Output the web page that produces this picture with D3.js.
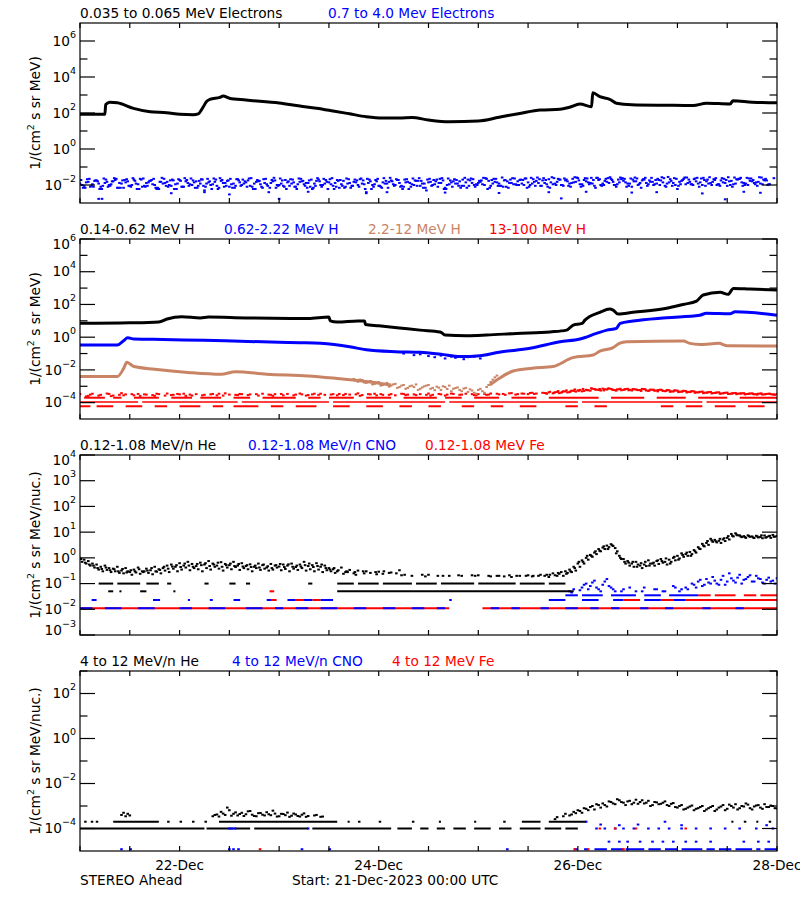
<!DOCTYPE html>
<html><head><meta charset="utf-8">
<script src="https://cdn.jsdelivr.net/npm/d3@7"></script>
<style>body{margin:0;background:#fff}svg{display:block}text{font-family:"DejaVu Sans",sans-serif}</style>
</head><body><svg id="c" width="800" height="900"></svg>
<script>
// ---------- time axis (hours after 21-Dec-2023 00:00 UTC) ----------
const startMs = Date.UTC(2023, 11, 21);
const spanHours = 168;
const dayLabels = ["2023-12-22", "2023-12-24", "2023-12-26", "2023-12-28"];

// ---------- Panel 1: electrons ----------
const elecLoHours = [0,6.0,6.2,7.2,9,12.9,16.9,20.9,24.1,27.3,28.5,29.6,30.5,31.3,33.7,34.5,36,40,48,53,57,61,65,69,73,77,80,84,89,96,101,106,111,115.7,118,120.5,123.3,123.6,125.3,127.7,129.3,133,141.4,147.8,151,156.7,157.4,162,168];
const elecLoFlux  = [85,85,300,400,370,180,117,104,85,80,90,200,430,570,740,870,660,525,360,245,185,130,90,62,52,52,56,41,33,36,58,95,148,160,210,316,225,1350,800,575,350,290,270,260,350,316,480,400,370];
const elecHiA = [0.012,0.009,0.015,0.011,0.018,0.008,0.013,0.010,0.016,0.007,0.012,0.014,0.009,0.020,0.011,0.008,0.013,0.017,0.010,0.006,0.012,0.015,0.009,0.011,0.019,0.008,0.013,0.010,0.016,0.012,0.005,0.014,0.011,0.009,0.017,0.013,0.008,0.012,0.021,0.010,0.014,0.009,0.012,0.016,0.007,0.011,0.013,0.018,0.010,0.009,0.014,0.012,0.008,0.015,0.011,0.013,0.006,0.017,0.010,0.012,0.014,0.009,0.019,0.011,0.008,0.013,0.015,0.010,0.012,0.004,0.016,0.011,0.009,0.014,0.012,0.018,0.010,0.013,0.008,0.015,0.011,0.017,0.009,0.012,0.014,0.010,0.020,0.013,0.007,0.011,0.016,0.012,0.009,0.014,0.018,0.010,0.013,0.011,0.022,0.009,0.015,0.012,0.008,0.016,0.013,0.011,0.019,0.010,0.014,0.012,0.017,0.009,0.013,0.021,0.011,0.015,0.010,0.018,0.012,0.014,0.024,0.011,0.016,0.013,0.009,0.019,0.012,0.015,0.022,0.010,0.014,0.017,0.012,0.008,0.016,0.013,0.020,0.011,0.015,0.012,0.018,0.009,0.014,0.013,0.006,0.017,0.011,0.015,0.021,0.012,0.010,0.016,0.013,0.019,0.011,0.014,0.009,0.017,0.012,0.022,0.013,0.010,0.016,0.014,0.012,0.018,0.011];
const elecHiB = [0.010,0.014,0.008,0.017,0.012,0.009,0.015,0.011,0.019,0.013,0.007,0.016,0.010,0.012,0.022,0.009,0.014,0.011,0.006,0.015,0.013,0.010,0.018,0.012,0.008,0.016,0.011,0.014,0.009,0.020,0.012,0.010,0.015,0.007,0.013,0.017,0.011,0.009,0.014,0.012,0.018,0.008,0.015,0.011,0.013,0.004,0.016,0.010,0.012,0.019,0.009,0.014,0.011,0.016,0.013,0.008,0.012,0.020,0.010,0.015,0.011,0.013,0.007,0.017,0.012,0.009,0.014,0.021,0.011,0.013,0.010,0.016,0.008,0.012,0.015,0.011,0.019,0.009,0.014,0.013,0.010,0.017,0.012,0.005,0.015,0.011,0.013,0.018,0.010,0.014,0.012,0.016,0.009,0.020,0.013,0.011,0.015,0.010,0.017,0.012,0.014,0.009,0.019,0.013,0.011,0.016,0.012,0.023,0.010,0.015,0.013,0.018,0.011,0.014,0.012,0.020,0.009,0.016,0.013,0.015,0.011,0.019,0.014,0.012,0.025,0.010,0.017,0.013,0.015,0.011,0.021,0.014,0.012,0.016,0.010,0.018,0.013,0.015,0.011,0.019,0.014,0.012,0.017,0.010,0.015,0.022,0.013,0.011,0.016,0.014,0.019,0.012,0.015,0.010,0.018,0.013,0.016,0.011,0.020,0.014,0.012,0.017,0.013,0.015,0.011,0.018];
const elecHiC = [0.019,0.007,0.022,0.008,0.016,0.006,0.020,0.009,0.024,0.007,0.018,0.021,0.008,0.017,0.006,0.023,0.009,0.019,0.007,0.015,0.022,0.008,0.020,0.006,0.017,0.024,0.009,0.018,0.007,0.021,0.008,0.016,0.023,0.006,0.019,0.009,0.022,0.007,0.018,0.020,0.008,0.024,0.006,0.017,0.021,0.009,0.019,0.007,0.023,0.008,0.016,0.020,0.006,0.022,0.009,0.018,0.007,0.024,0.008,0.019,0.021,0.006,0.017,0.009,0.023,0.007,0.020,0.008,0.018,0.022,0.006,0.019,0.009,0.024,0.007,0.016,0.021,0.008,0.020,0.006,0.023,0.009,0.017,0.007,0.022,0.019,0.008,0.024,0.006,0.018,0.021,0.009,0.020,0.007,0.023,0.008,0.017,0.025,0.006,0.019,0.022,0.009,0.018,0.007,0.024,0.010,0.020,0.023,0.008,0.021,0.026,0.009,0.019,0.007,0.024,0.022,0.010,0.020,0.008,0.027,0.018,0.009,0.023,0.025,0.007,0.021,0.010,0.024,0.019,0.008,0.026,0.022,0.009,0.020,0.023,0.007,0.025,0.018,0.010,0.022,0.027,0.008,0.021,0.024,0.009,0.019,0.026,0.011,0.023,0.008,0.025,0.020,0.010,0.024,0.009,0.022,0.027,0.008,0.021,0.025,0.010,0.023,0.019,0.009,0.026,0.022,0.011,0.024];
const elecHiD = [0.007,0.021,0.009,0.018,0.006,0.023,0.008,0.016,0.022,0.007,0.019,0.009,0.024,0.006,0.020,0.008,0.017,0.022,0.007,0.025,0.009,0.018,0.006,0.021,0.008,0.019,0.023,0.007,0.017,0.009,0.022,0.006,0.020,0.024,0.008,0.018,0.007,0.021,0.009,0.016,0.023,0.006,0.019,0.008,0.022,0.007,0.025,0.009,0.018,0.006,0.021,0.008,0.023,0.017,0.007,0.020,0.009,0.016,0.022,0.006,0.024,0.008,0.019,0.007,0.021,0.009,0.018,0.023,0.006,0.020,0.008,0.022,0.007,0.017,0.025,0.009,0.019,0.006,0.021,0.008,0.018,0.024,0.007,0.020,0.009,0.016,0.022,0.006,0.023,0.008,0.019,0.007,0.025,0.009,0.021,0.010,0.018,0.024,0.007,0.022,0.009,0.026,0.008,0.020,0.023,0.010,0.019,0.007,0.025,0.009,0.021,0.024,0.008,0.027,0.010,0.020,0.023,0.009,0.022,0.026,0.008,0.024,0.011,0.019,0.025,0.009,0.022,0.027,0.010,0.020,0.024,0.008,0.023,0.026,0.011,0.021,0.009,0.025,0.019,0.010,0.024,0.028,0.009,0.022,0.011,0.026,0.020,0.010,0.025,0.023,0.009,0.027,0.021,0.011,0.024,0.019,0.010,0.026,0.022,0.009,0.025,0.023,0.011,0.027,0.020,0.010];
const elecHiOutHours = [4.5,5.3,22,30,36,48,55,69,74,88,101,113,116,122,133,139,150,155.5,160,164];
const elecHiOutFlux  = [0.0017,0.0017,0.0035,0.004,0.003,0.0017,0.0042,0.0035,0.004,0.0038,0.0036,0.004,0.0018,0.0042,0.0038,0.004,0.0034,0.0016,0.0042,0.0037];

// ---------- Panel 2: protons ----------
const hLoHours = [0,12,19,21,24.5,29,31,40,55,60,60.3,62,67,68.6,68.8,72,77,82,86.8,88,93.2,98,105.2,113.3,117.3,118.9,121,121.7,125.3,127.7,128.5,129.7,133.3,141.4,145.4,148.6,150.2,154.3,156.2,157.5,161.5,168];
const hLoFlux  = [7,7.5,8.5,13,18,15,17,15,14,17,10,8.5,9.8,9.8,6,5,3.7,2.7,2.1,1.35,1.23,1.35,1.7,2.1,2.7,5.5,6.9,11,33,52,45,26,33,58,100,160,380,550,420,950,870,760];
const hMidHours = [0,9,10.5,11.5,13,20,25,35,48,53,58,65,69,76,82,87,91.6,96.4,101,108.5,115.7,120.5,124.5,127,129.3,130.2,133.3,141.4,149.4,151,156.7,157.9,168];
const hMidFlux  = [0.33,0.33,0.6,0.93,0.78,0.72,0.68,0.6,0.49,0.46,0.42,0.26,0.17,0.13,0.12,0.09,0.065,0.074,0.12,0.21,0.52,0.78,1.7,2.7,3.5,7,9.8,15.5,22,29,27,36,22];
const hMidScatHours = [78,80.5,82,84,85.5,87,88,89.5,90.5,91,92.5,93.5,95,96.5,98];
const hMidScatFlux  = [0.1,0.08,0.09,0.07,0.06,0.075,0.05,0.065,0.055,0.07,0.045,0.06,0.065,0.05,0.08];
const hHiHours = [0,9,10.5,11.3,13,18,26,34,37.5,45,55,62,68,75,76,98,98.8,101,104.4,109,114,118.8,123.7,125.3,128.5,130,131.8,145.4,147,149.4,154,156,168];
const hHiFlux  = [0.0039,0.0039,0.012,0.029,0.016,0.011,0.007,0.0054,0.0078,0.0054,0.0043,0.003,0.0021,0.0012,null,null,0.0012,0.003,0.0085,0.0126,0.016,0.056,0.081,0.14,0.23,0.42,0.52,0.58,0.42,0.36,0.42,0.30,0.29];
const hHiScatA = [0.0028,0.0019,0.0024,0.0016,0.0021,0.0014,0.0018,0.0012,0.0016,0.0011,0.0014,0.0009,0.0012,0.0008,0.0011,0.0013,0.0007,0.001,0.0012,0.0008,0.00095,0.0006,0.0009,0.0011,0.0007,0.00085,0.0005,0.0008,0.00065,0.0004,0.0006,0.0005,0.0009,0.0018,0.0035];
const hHiScatB = [0.0022,0.0026,0.0017,0.0019,0.0013,0.0017,0.0011,0.0014,0.00095,0.0013,0.0008,0.0011,0.0007,0.001,0.0009,0.0006,0.00085,0.0011,0.0007,0.00058,0.00082,0.001,0.00068,0.0005,0.00078,0.0006,0.00072,0.00045,0.00055,0.00035,0.0007,0.0004,0.0012,0.0025,0.0045];
const hVhiA = [3.3e-4,null,2.6e-4,3.5e-4,null,3.0e-4,null,3.4e-4,2.7e-4,null,3.8e-4,3.2e-4,null,2.8e-4,3.4e-4,null,3.1e-4,null,2.6e-4,3.3e-4,null,3.6e-4,2.9e-4,null,3.2e-4,3.5e-4,null,2.7e-4,3.3e-4,null,3.0e-4,null,3.4e-4,2.8e-4,null,3.7e-4,3.1e-4,null,2.9e-4,3.3e-4,null,3.2e-4,null,2.7e-4,3.5e-4,null,3.0e-4,3.3e-4,null,2.8e-4,3.4e-4,null,3.1e-4,3.6e-4,null,2.9e-4,3.2e-4,null,3.5e-4,3.0e-4,null,3.3e-4,2.8e-4,null,3.4e-4,3.1e-4,null,3.7e-4,2.9e-4,null,3.2e-4,3.5e-4,null,3.0e-4,null,3.3e-4,2.8e-4,null,3.4e-4,3.1e-4,null,2.9e-4,3.3e-4,null,3.6e-4,3.0e-4,null,3.2e-4,2.7e-4,null,3.4e-4,null,3.1e-4,3.5e-4,null,2.9e-4,3.3e-4,null,3.0e-4,3.6e-4,null,3.2e-4,3.4e-4,null,3.8e-4,3.1e-4,null,3.5e-4,3.3e-4,4.0e-4,3.6e-4,null,3.9e-4,4.2e-4,3.7e-4,4.5e-4,4.1e-4,4.8e-4,4.4e-4,5.2e-4,5.6e-4,4.9e-4,6.1e-4,5.4e-4,6.8e-4,5.9e-4,7.2e-4,6.3e-4,6.9e-4,5.8e-4,6.6e-4,6.0e-4,7.0e-4,5.5e-4,6.4e-4,5.9e-4,6.7e-4,5.2e-4,6.1e-4,5.6e-4,6.2e-4,5.0e-4,5.7e-4,4.8e-4,5.4e-4,4.6e-4,5.1e-4,4.4e-4,4.9e-4,4.2e-4,4.7e-4,4.0e-4,4.5e-4,3.9e-4,4.3e-4,3.7e-4,4.1e-4,3.5e-4,3.9e-4,3.6e-4,3.8e-4,3.4e-4,3.7e-4,3.3e-4,3.6e-4,3.2e-4,3.5e-4,3.1e-4,3.4e-4];
const hVhiB = [null,2.4e-4,3.1e-4,null,2.7e-4,null,3.6e-4,2.5e-4,null,3.0e-4,2.8e-4,null,3.3e-4,null,2.6e-4,3.2e-4,null,2.9e-4,3.5e-4,null,2.7e-4,null,3.0e-4,3.4e-4,null,2.6e-4,3.1e-4,null,null,2.8e-4,null,3.2e-4,null,3.5e-4,2.7e-4,null,null,3.0e-4,3.4e-4,null,2.9e-4,null,3.3e-4,null,null,3.1e-4,2.6e-4,null,3.4e-4,null,null,2.8e-4,null,3.2e-4,2.7e-4,null,3.5e-4,3.0e-4,null,null,3.1e-4,null,3.4e-4,2.9e-4,null,null,3.2e-4,2.6e-4,null,3.3e-4,null,2.8e-4,3.3e-4,null,3.0e-4,null,null,3.5e-4,2.9e-4,null,3.2e-4,null,null,3.0e-4,2.7e-4,null,3.4e-4,null,3.1e-4,3.6e-4,null,3.0e-4,null,null,3.3e-4,2.8e-4,null,3.4e-4,3.1e-4,null,3.5e-4,null,3.0e-4,3.7e-4,null,3.3e-4,3.6e-4,null,3.9e-4,3.4e-4,null,4.0e-4,3.5e-4,null,4.3e-4,3.8e-4,5.0e-4,4.2e-4,5.4e-4,4.7e-4,6.0e-4,5.2e-4,5.7e-4,7.0e-4,6.2e-4,5.5e-4,6.6e-4,7.4e-4,6.0e-4,6.5e-4,5.7e-4,6.8e-4,6.1e-4,6.6e-4,5.8e-4,6.9e-4,5.5e-4,6.3e-4,5.3e-4,6.0e-4,5.2e-4,5.9e-4,4.9e-4,5.6e-4,4.7e-4,5.3e-4,4.5e-4,5.0e-4,4.3e-4,4.6e-4,4.1e-4,4.4e-4,3.8e-4,4.2e-4,3.6e-4,4.0e-4,3.4e-4,3.8e-4,3.5e-4,3.7e-4,3.3e-4,3.6e-4,3.2e-4,3.5e-4,3.1e-4,3.4e-4,3.3e-4,3.0e-4];
const hVhiC = [3.8e-4,4.6e-4,4.0e-4,5.1e-4,4.4e-4,5.6e-4,4.9e-4,6.4e-4,5.3e-4,6.9e-4,5.8e-4,7.6e-4,6.2e-4,6.8e-4,5.6e-4,7.1e-4,6.4e-4,5.4e-4,7.0e-4,6.3e-4,5.7e-4,6.7e-4,6.0e-4,5.2e-4,6.5e-4,5.6e-4,6.1e-4,4.9e-4,5.8e-4,5.2e-4,4.6e-4,5.5e-4,4.4e-4,5.0e-4,4.2e-4,4.8e-4,4.0e-4,4.4e-4,3.8e-4,4.2e-4,3.7e-4,4.0e-4,3.5e-4,3.9e-4,3.4e-4,3.7e-4,3.3e-4,3.6e-4,3.2e-4,3.5e-4,3.4e-4,3.1e-4,3.6e-4,3.3e-4,3.5e-4,3.2e-4,3.4e-4];
const hVhiRowFlux = [2e-4, 1.1e-4, 6e-5];
const hVhiRow1 = [[1,6],[8,10],[13,19],[22,27],[29,34],[37,41],[44,52],[55,58],[60,66],[69,75],[78,86],[88,92],[95,101],[104,110],[113,125],[128,136],[139,146],[149,156],[159,168]];
const hVhiRow2 = [[0,14],[15,38],[39,60],[61,88],[89,120],[121,150],[151,168]];
const hVhiRow3 = [[0,2.5],[4,8],[11,15],[18,21],[24,29],[32,34.5],[37,43],[46,49],[52,57],[61,65],[69,73],[77,80],[84,87],[92,95],[99,102],[106,110],[117,120],[124,127],[140,143],[146,150],[153,158],[161,165]];

// ---------- Panel 3: 0.12-1.08 MeV/n heavy ions ----------
const heA = [0.95,0.85,0.75,0.6,0.55,0.45,0.5,0.4,0.38,0.45,0.32,0.4,0.28,0.35,0.42,0.3,0.38,0.33,0.45,0.36,0.4,0.5,0.55,0.45,0.62,0.5,0.7,0.58,0.48,0.65,0.55,0.75,0.6,0.5,0.68,0.58,0.52,0.7,0.5,0.62,0.48,0.56,0.45,0.6,0.52,0.42,0.58,0.5,0.46,0.55,0.5,0.6,0.44,0.55,0.7,0.48,0.52,0.62,0.45,0.5,0.4,0.36,0.3,0.42,0.28,0.34,0.25,0.32,null,0.3,0.26,null,0.29,0.24,null,0.27,null,0.33,null,null,0.2,null,null,null,0.22,null,null,null,null,0.2,null,null,0.2,null,null,null,0.21,null,null,0.19,null,0.2,null,null,0.18,null,0.2,null,0.21,0.19,null,0.22,0.2,0.18,0.25,0.2,0.28,0.3,0.35,0.45,0.6,0.8,1.0,1.3,1.6,2.2,2.5,3.0,3.4,2.4,1.2,0.9,0.75,0.6,0.7,0.5,0.55,0.8,0.6,0.75,0.9,0.7,0.85,1.0,1.2,1.5,1.4,1.7,2.0,2.6,3.5,3.8,5.5,5.0,4.6,5.2,6.0,8.5,9.0,7.5,7.0,7.5,6.8,7.2,6.5,7.4,6.9,7.8,7.1];
const heB = [0.7,0.6,0.5,0.42,0.35,0.3,0.34,0.28,0.3,0.26,0.25,0.3,0.22,0.27,0.24,0.3,0.26,0.23,0.29,0.25,0.32,0.28,0.38,0.3,0.35,0.42,0.33,0.4,0.36,0.3,0.4,0.35,0.45,0.38,0.32,0.42,0.36,0.44,0.34,0.4,0.36,0.3,0.4,0.34,0.38,0.32,0.35,0.42,0.33,0.37,0.3,0.38,0.34,0.4,0.32,0.36,0.3,0.35,0.28,0.33,0.3,0.26,null,0.24,0.28,null,0.22,null,0.25,null,null,0.23,null,null,0.26,null,null,0.21,null,null,null,null,0.22,null,null,null,null,0.2,null,null,null,null,null,null,0.21,null,null,null,0.2,null,0.2,null,null,0.21,null,null,null,0.2,null,null,0.2,null,0.22,null,0.21,0.24,0.2,0.26,0.28,0.32,0.45,0.6,0.85,1.1,1.4,1.8,2.2,2.6,2.9,1.8,0.9,0.6,0.5,0.45,0.55,0.4,0.48,0.6,0.5,0.58,0.65,0.55,0.7,0.8,0.95,1.1,1.2,1.4,1.6,2.2,2.8,3.2,4.2,4.0,3.8,4.5,5.2,6.8,7.5,6.4,6.0,6.6,5.9,6.2,5.8,6.4,6.0,6.7,6.2];
const heC = [0.9,0.65,0.55,0.5,0.4,0.37,0.42,0.33,0.36,0.3,0.37,0.27,0.33,0.3,0.36,0.28,0.32,0.4,0.3,0.34,0.45,0.38,0.46,0.52,0.44,0.6,0.5,0.45,0.58,0.52,0.62,0.48,0.55,0.65,0.45,0.52,0.6,0.48,0.58,0.46,0.52,0.44,0.5,0.42,0.55,0.47,0.4,0.52,0.58,0.44,0.56,0.45,0.5,0.46,0.52,0.6,0.44,0.48,0.55,0.4,0.35,0.4,0.33,null,0.3,null,0.28,null,0.3,null,null,0.28,null,0.3,null,null,0.25,null,0.22,null,null,null,null,0.19,null,null,0.2,null,null,null,null,0.21,null,null,null,0.2,null,null,null,null,null,null,0.19,null,null,0.2,null,null,null,0.2,null,null,null,0.22,null,0.26,null,0.24,0.3,0.4,0.7,0.7,1.2,1.2,1.8,1.9,2.8,2.2,3.1,1.5,1.0,0.7,0.65,0.7,0.45,0.62,0.7,0.5,0.65,0.8,0.75,0.95,0.6,1.1,0.85,1.3,1.6,1.2,1.8,2.3,3.0,4.5,4.8,4.4,5.5,5.8,7.0,7.2,8.0,6.8,6.4,7.0,6.2,6.8,7.5,6.1,7.2,6.6,7.0];
const heRowFlux = [0.1, 0.05];
const heRow1 = [[4.5,8],[9,14.5],[16,19],[21,22],[30,31],[36,37.5],[40,41],[55,56],[62,66],[67,72],[73,80],[81,86],[87,95],[96,105],[106,112],[113,117]];
const heRow2 = [[6.8,8],[9.5,10],[14.5,16],[22.5,23],[62,119]];
const ionRowFlux = [0.011, 0.023, 0.035];
const feRow1 = [[0,89],[97,168]];
const cnoRow1 = [[0,3],[6,10],[14,18],[24,27],[31,35],[40,44],[47,49],[52,55],[58,62],[66,69],[73,76],[80,83],[86,88],[99,101],[104,106],[111,113],[117,120],[123,125],[128,130],[135,137],[141,143],[150,152],[158,160]];
const feRow2 = [[45.5,47.4],[52,54],[56,58],[131,135],[140,143],[146,168]];
const cnoRow2 = [[2.8,4],[17.6,19.3],[26,26.5],[31.3,32],[37,38.6],[45,46],[50,52],[54,56],[58,61],[89,89.6],[113,117],[121,125],[128.5,131],[136,140],[143,146]];
const feRow3 = [[149,152],[153,158],[160,163],[164,168]];
const cnoRow3 = [[117,120],[121,126],[128,134],[136,140],[142,149]];
const feSpotHours = [46, 46.5];
const feSpotFlux  = [0.05, 0.05];
const cnoCloudA = [0.05,0.06,null,0.07,0.1,0.08,0.13,0.06,0.09,0.15,0.07,0.05,null,0.06,null,null,0.05,null,0.07,null,null,0.06,null,0.05,null,0.08,null,0.06,0.07,null,0.09,0.12,0.08,0.15,0.1,0.13,0.09,0.2,0.12,0.16,0.11,0.22,0.14,0.18,0.12,0.2,0.15,0.1,0.17,0.13,0.16];
const cnoCloudB = [0.045,null,0.055,0.09,0.06,0.11,0.07,0.05,0.12,0.08,0.06,null,0.05,null,0.07,null,null,0.05,null,null,0.06,null,0.05,null,null,0.07,0.05,null,0.06,0.1,0.07,0.14,0.09,0.11,0.18,0.1,0.14,0.09,0.25,0.13,0.17,0.1,0.15,0.21,0.12,0.16,0.11,0.14,0.12,0.1];

// ---------- Panel 4: 4-12 MeV/n heavy ions ----------
const he4RowFlux = [1e-4, 2e-4];
const he4Row1 = [[0,30],[30.5,41],[42,55],[56,75],[76.5,80],[82,84],[86,88],[90,93],[95,99],[101,104],[106,111],[112,116],[117,120]];
const he4Row2 = [[1,1.6],[2.6,3.2],[3.8,4.4],[8,19],[21,21.6],[24,24.6],[27,27.6],[30,30.6],[33.5,62],[64.5,65],[67,67.6],[72,72.6],[80,80.6],[86.5,87],[95,95.5],[102,102.6],[106.5,111],[113,122],[157,157.5],[160,160.6],[163,163.5],[166,166.6]];
const he4EarlyHours = [10,10.5,11,11.5,12];
const he4EarlyFlux  = [4e-4,5e-4,3.5e-4,4.5e-4,3.8e-4];
const he4MidA = [3.5e-4,4.2e-4,5.5e-4,4.0e-4,6.5e-4,4.5e-4,3.8e-4,5.0e-4,4.3e-4,6.0e-4,3.6e-4,4.8e-4,4.1e-4,5.3e-4,3.9e-4,4.6e-4,3.5e-4,4.4e-4,5.1e-4,3.7e-4,4.2e-4,3.4e-4,4.7e-4,3.6e-4,null,4.0e-4,3.3e-4];
const he4MidB = [4.0e-4,3.4e-4,4.6e-4,8.5e-4,3.7e-4,5.2e-4,4.4e-4,3.6e-4,5.8e-4,4.1e-4,3.5e-4,4.9e-4,3.8e-4,4.3e-4,6.2e-4,3.4e-4,4.5e-4,3.9e-4,3.3e-4,4.6e-4,3.6e-4,4.1e-4,3.3e-4,null,3.8e-4,null,3.4e-4];
const he4RightA = [null,3.2e-4,null,4.5e-4,3.8e-4,5.5e-4,6.5e-4,5.0e-4,7.5e-4,9.0e-4,7.0e-4,1.1e-3,1.3e-3,9.5e-4,1.5e-3,1.2e-3,1.8e-3,1.4e-3,1.6e-3,1.2e-3,1.9e-3,1.5e-3,1.3e-3,1.7e-3,1.1e-3,1.45e-3,1.25e-3,1.6e-3,1.0e-3,1.35e-3,8.5e-4,1.1e-3,7.5e-4,9.5e-4,6.5e-4,8.0e-4,1.0e-3,7.0e-4,9.0e-4,6.0e-4,8.5e-4,1.1e-3,7.5e-4,1.0e-3,1.2e-3,8.0e-4,9.5e-4,1.15e-3,7.0e-4,1.05e-3,8.5e-4,1.2e-3,9.0e-4,1.0e-3,7.8e-4];
const he4RightB = [2.6e-4,null,3.5e-4,null,4.2e-4,4.8e-4,6.0e-4,8.0e-4,6.5e-4,1.0e-3,1.2e-3,8.5e-4,1.1e-3,1.6e-3,1.3e-3,2.0e-3,1.5e-3,1.1e-3,1.7e-3,1.4e-3,1.25e-3,1.8e-3,1.4e-3,1.0e-3,1.5e-3,1.2e-3,1.4e-3,1.1e-3,1.25e-3,9.0e-4,1.0e-3,7.0e-4,8.5e-4,1.05e-3,7.5e-4,9.0e-4,6.0e-4,8.0e-4,1.0e-3,7.0e-4,9.5e-4,6.5e-4,1.15e-3,8.5e-4,7.0e-4,1.0e-3,1.3e-3,8.0e-4,9.5e-4,1.1e-3,7.5e-4,9.0e-4,1.05e-3,8.0e-4];
const cno4Row = [[119,120],[121.5,122.5],[124,127],[128,131],[131.5,136],[137,140],[141,144],[145,150],[151,153],[154,157],[158,162],[163,164],[165,168]];
const cno4RowFlux = 1.2e-5;
const cno4Hours = [10,12.2,36,37,38.2,53.5,60.2,103,127.5,130,132,135,138,140.5,143,146,148.5,152,160,163.5,166,36,36.6,37.4,55,124.5,126.5,129,131,133.5,137,139.5,142,145,148.5,152,155.5,159,163,167,122,125.5,130,134.5,141,145,165.5];
const cno4Flux  = [1.2e-5,1.2e-5,1.2e-5,1.2e-5,1.2e-5,1.2e-5,1.2e-5,1.2e-5,2.6e-5,2.6e-5,2.6e-5,2.6e-5,2.6e-5,2.6e-5,2.6e-5,2.6e-5,2.6e-5,2.6e-5,2.6e-5,2.6e-5,2.6e-5,1e-4,1e-4,1e-4,1e-4,1e-4,1e-4,1e-4,1e-4,1e-4,1e-4,1e-4,1e-4,1e-4,1e-4,1e-4,1e-4,1e-4,1e-4,1e-4,2e-4,1.5e-4,1.4e-4,1.5e-4,2e-4,1.4e-4,1.4e-4];
const fe4Hours = [43.4,119.3,122.5,125.3,129,131,134,146];
const fe4Flux  = [1.2e-5,1.2e-5,1.2e-5,1e-4,1e-4,1.2e-5,1e-4,1e-4];

// ---------- text ----------
const titleTexts = [
  ["0.035 to 0.065 MeV Electrons", "0.7 to 4.0 Mev Electrons"],
  ["0.14-0.62 MeV H", "0.62-2.22 MeV H", "2.2-12 MeV H", "13-100 MeV H"],
  ["0.12-1.08 MeV/n He", "0.12-1.08 MeV/n CNO", "0.12-1.08 MeV Fe"],
  ["4 to 12 MeV/n He", "4 to 12 MeV/n CNO", "4 to 12 MeV Fe"]
];
const yUnits = ["MeV)", "MeV)", "MeV/nuc.)", "MeV/nuc.)"];
const yDomains = [[1e-3,1e7],[1e-5,1e6],[1e-3,1e4],[1e-5,1e3]];
const yMajorExp = [[6,4,2,0,-2],[6,4,2,0,-2,-4],[4,3,2,1,0,-1,-2,-3],[2,0,-2,-4]];
const yMinorExp = [[5,3,1,-1],[5,3,1,-1,-3],[],[3,1,-1,-3]];

// ---------- layout / style ----------
const C = {black:"#000", blue:"#0000ff", brown:"#c98466", red:"#ff0000"};
const titleColors = [[C.black,C.blue],[C.black,C.blue,C.brown,C.red],[C.black,C.blue,C.red],[C.black,C.blue,C.red]];
const titleX = [[80,328],[80,224,368,489],[80,248,425],[80,232,392]];
const L = 80, R = 777, PH = 180, tops = [23,239,455,671];
const FS = 13.7;

const svg = d3.select("#c");
const hr = h => new Date(startMs + h*3600000);
const x = d3.scaleUtc().domain([hr(0), hr(spanHours)]).range([L, R]);
const X = h => x(hr(h));

function series(arr, start, step){ return arr.map((v,i)=>({h:start+i*step, v})).filter(d=>d.v!=null); }
function pairs(hs, vs){ return hs.map((h,i)=>({h, v:vs[i]})); }

tops.forEach((top, p) => {
  const y = d3.scaleLog().domain(yDomains[p]).range([top+PH, top]);
  const g = svg.append("g");
  const clipId = "clip"+p;
  svg.append("clipPath").attr("id", clipId).append("rect").attr("x", L).attr("y", top).attr("width", R-L).attr("height", PH);
  const d = g.append("g").attr("clip-path", `url(#${clipId})`);

  const dots = (data, color, w=2.6, hgt=2) => d.append("g").attr("fill", color).selectAll("rect").data(data).join("rect")
      .attr("x", e=>X(e.h)-w/2).attr("y", e=>y(e.v)-hgt/2).attr("width", w).attr("height", hgt);
  const line = (hs, vs, color, sw) => d.append("path").datum(pairs(hs, vs))
      .attr("fill","none").attr("stroke", color).attr("stroke-width", sw).attr("stroke-linejoin","round")
      .attr("d", d3.line().defined(e=>e.v!=null).curve(d3.curveMonotoneX).x(e=>X(e.h)).y(e=>y(e.v)));
  const rows = (segs, flux, color, sw=2) => d.append("g").attr("stroke", color).attr("stroke-width", sw).selectAll("line").data(segs).join("line")
      .attr("x1", s=>X(s[0])).attr("x2", s=>X(s[1])).attr("y1", y(flux)).attr("y2", y(flux));

  if (p === 0) {
    dots(series(elecHiA, 0, 1), C.blue);
    dots(series(elecHiB, 0.5, 1), C.blue);
    dots(series(elecHiC, 0.25, 1), C.blue);
    dots(series(elecHiD, 0.75, 1), C.blue);
    dots(pairs(elecHiOutHours, elecHiOutFlux), C.blue);
    line(elecLoHours, elecLoFlux, C.black, 3);
  } else if (p === 1) {
    rows(hVhiRow1, hVhiRowFlux[0], C.red);
    rows(hVhiRow2, hVhiRowFlux[1], C.red, 1.5);
    rows(hVhiRow3, hVhiRowFlux[2], C.red);
    dots(series(hVhiA, 0, 1), C.red);
    dots(series(hVhiB, 0.5, 1), C.red);
    dots(series(hVhiC, 112.25, 1), C.red);
    dots(series(hHiScatA, 66, 1), C.brown);
    dots(series(hHiScatB, 66.5, 1), C.brown);
    line(hHiHours, hHiFlux, C.brown, 3);
    dots(pairs(hMidScatHours, hMidScatFlux), C.blue);
    line(hMidHours, hMidFlux, C.blue, 3);
    line(hLoHours, hLoFlux, C.black, 3);
  } else if (p === 2) {
    rows(feRow1, ionRowFlux[0], C.red);
    rows(cnoRow1, ionRowFlux[0], C.blue);
    rows(feRow2, ionRowFlux[1], C.red);
    rows(cnoRow2, ionRowFlux[1], C.blue);
    rows(feRow3, ionRowFlux[2], C.red);
    rows(cnoRow3, ionRowFlux[2], C.blue);
    dots(pairs(feSpotHours, feSpotFlux), C.red);
    dots(series(cnoCloudA, 118, 1), C.blue);
    dots(series(cnoCloudB, 118.5, 1), C.blue);
    rows(heRow1, heRowFlux[0], C.black);
    rows(heRow2, heRowFlux[1], C.black);
    dots(series(heA, 0, 1), C.black);
    dots(series(heB, 0.5, 1), C.black);
    dots(series(heC, 0.25, 1), C.black);
  } else {
    rows(he4Row1, he4RowFlux[0], C.black);
    rows(he4Row2, he4RowFlux[1], C.black);
    dots(pairs(he4EarlyHours, he4EarlyFlux), C.black);
    dots(series(he4MidA, 32, 1), C.black);
    dots(series(he4MidB, 32.5, 1), C.black);
    dots(series(he4RightA, 114, 1), C.black);
    dots(series(he4RightB, 114.5, 1), C.black);
    rows(cno4Row, cno4RowFlux, C.blue);
    dots(pairs(cno4Hours, cno4Flux), C.blue);
    dots(pairs(fe4Hours, fe4Flux), C.red);
  }

  // frame
  g.append("rect").attr("x", L).attr("y", top).attr("width", R-L).attr("height", PH)
    .attr("fill","none").attr("stroke","#000").attr("stroke-width",1.2);

  // x ticks (12 h), inward on top and bottom
  const xt = x.ticks(d3.utcHour.every(12));
  g.append("g").attr("stroke","#000").attr("stroke-width",1.2).selectAll("line").data(xt).join("line")
    .attr("x1", t=>x(t)).attr("x2", t=>x(t)).attr("y1", top+PH).attr("y2", top+PH-5);
  g.append("g").attr("stroke","#000").attr("stroke-width",1.2).selectAll("line").data(xt).join("line")
    .attr("x1", t=>x(t)).attr("x2", t=>x(t)).attr("y1", top).attr("y2", top+5);

  // y ticks
  const tk = (exps, len) => {
    const gg = g.append("g").attr("stroke","#000").attr("stroke-width",1.2);
    exps.forEach(e => {
      const yy = y(Math.pow(10, e));
      gg.append("line").attr("x1", L).attr("x2", L+len).attr("y1", yy).attr("y2", yy);
      gg.append("line").attr("x1", R).attr("x2", R-len).attr("y1", yy).attr("y2", yy);
    });
  };
  tk(yMajorExp[p], 15);
  tk(yMinorExp[p], 7.5);

  yMajorExp[p].forEach(e => {
    const yy = y(Math.pow(10, e));
    const base = Math.max(top+10, Math.min(top+PH, yy+4.7));
    const t = g.append("text").attr("x", 76).attr("y", base).attr("text-anchor","end").attr("font-size", FS);
    t.append("tspan").text("10");
    t.append("tspan").attr("dy", -8).attr("font-size", 9.5).text(e < 0 ? "\u2212" + (-e) : String(e));
  });

  // y title
  const yt = g.append("text").attr("transform", `translate(40,${top+PH/2}) rotate(-90)`)
    .attr("text-anchor","middle").attr("font-size", FS);
  yt.append("tspan").text("1/(cm");
  yt.append("tspan").attr("dy", -6).attr("font-size", 9.5).text("2");
  yt.append("tspan").attr("dy", 6).text(" s sr " + yUnits[p]);

  // titles
  titleTexts[p].forEach((s, i) => {
    g.append("text").attr("x", titleX[p][i]).attr("y", top-5).attr("font-size", FS)
      .attr("fill", titleColors[p][i]).text(s);
  });
});

// bottom date labels
const fmt = d3.utcFormat("%d-%b");
svg.append("g").selectAll("text").data(dayLabels.map(s => new Date(s + "T00:00:00Z"))).join("text")
  .attr("x", t => x(t)).attr("y", 870).attr("text-anchor","middle").attr("font-size", FS).text(t => fmt(t));
svg.append("text").attr("x", 80).attr("y", 885).attr("font-size", FS).text("STEREO Ahead");
svg.append("text").attr("x", 292).attr("y", 885).attr("font-size", FS).text("Start: 21-Dec-2023 00:00 UTC");
</script></body></html>
